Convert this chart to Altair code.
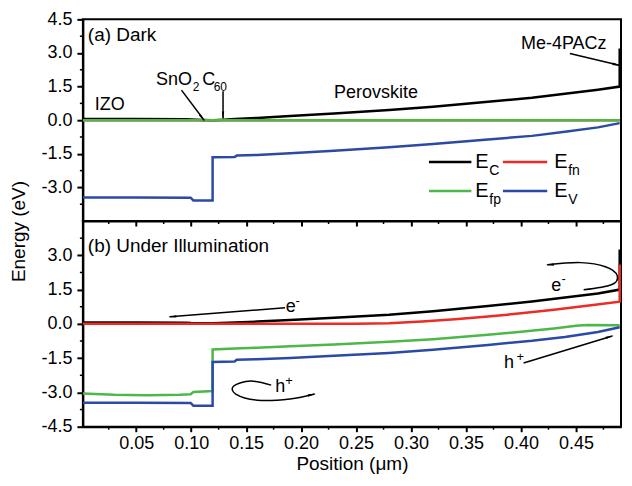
import altair as alt
import pandas as pd

FONT = "Liberation Sans"
X_DOMAIN = [0.0015, 0.491]
Y_DOMAIN = [-4.5, 4.5]

# ---------------- (a) Dark ----------------
dark_ec_x = [0.0015, 0.05, 0.095, 0.10, 0.11, 0.12, 0.13, 0.14, 0.16, 0.19, 0.23, 0.28, 0.32, 0.37, 0.41, 0.44, 0.47, 0.4898, 0.4898]
dark_ec_y = [0.05, 0.05, 0.04, 0.03, 0.01, 0.0, 0.02, 0.05, 0.10, 0.19, 0.30, 0.45, 0.60, 0.82, 1.00, 1.18, 1.36, 1.50, 3.20]
dark_efn_x = [0.0015, 0.4898]
dark_efn_y = [0.0, 0.0]
dark_efp_x = [0.0015, 0.4898]
dark_efp_y = [0.0, 0.0]
dark_ev_x = [0.0015, 0.05, 0.0995, 0.102, 0.1195, 0.1195, 0.1395, 0.1415, 0.16, 0.19, 0.23, 0.28, 0.32, 0.37, 0.41, 0.44, 0.47, 0.4898]
dark_ev_y = [-3.45, -3.45, -3.46, -3.58, -3.58, -1.65, -1.64, -1.58, -1.55, -1.47, -1.36, -1.21, -1.06, -0.86, -0.70, -0.52, -0.32, -0.13]

# ---------------- (b) Under Illumination ----------------
light_ec_x = [0.0015, 0.05, 0.095, 0.10, 0.12, 0.14, 0.16, 0.19, 0.23, 0.28, 0.32, 0.37, 0.41, 0.44, 0.47, 0.4898, 0.4898]
light_ec_y = [0.06, 0.06, 0.05, 0.04, 0.03, 0.06, 0.10, 0.17, 0.27, 0.40, 0.55, 0.78, 0.98, 1.15, 1.33, 1.50, 3.25]
light_efn_x = [0.0015, 0.10, 0.20, 0.25, 0.28, 0.31, 0.34, 0.37, 0.40, 0.43, 0.46, 0.4898, 0.4898]
light_efn_y = [0.0, 0.0, 0.0, 0.0, 0.03, 0.10, 0.20, 0.32, 0.46, 0.62, 0.79, 0.97, 2.60]
light_efp_x = [0.0015, 0.03, 0.06, 0.09, 0.0995, 0.102, 0.1195, 0.1195, 0.14, 0.16, 0.19, 0.23, 0.28, 0.32, 0.37, 0.40, 0.43, 0.45, 0.46, 0.4898]
light_efp_y = [-3.05, -3.10, -3.12, -3.10, -3.08, -2.98, -2.94, -1.12, -1.08, -1.04, -0.98, -0.90, -0.78, -0.67, -0.48, -0.35, -0.20, -0.08, -0.05, -0.06]
light_ev_x = [0.0015, 0.05, 0.0995, 0.102, 0.1195, 0.1195, 0.1395, 0.1415, 0.16, 0.19, 0.23, 0.28, 0.32, 0.37, 0.41, 0.44, 0.47, 0.4898]
light_ev_y = [-3.45, -3.45, -3.46, -3.58, -3.58, -1.67, -1.65, -1.57, -1.55, -1.49, -1.40, -1.27, -1.13, -0.92, -0.74, -0.57, -0.36, -0.15]

# ---------------- ticks ----------------
x_major = [0.05, 0.10, 0.15, 0.20, 0.25, 0.30, 0.35, 0.40, 0.45]
x_minor = [0.025, 0.075, 0.125, 0.175, 0.225, 0.275, 0.325, 0.375, 0.425, 0.475]
y_major_top = [-3.0, -1.5, 0.0, 1.5, 3.0, 4.5]
y_major_bottom = [-4.5, -3.0, -1.5, 0.0, 1.5, 3.0]
y_minor = [-3.75, -2.25, -0.75, 0.75, 2.25, 3.75]

# ---------------- annotations ----------------
top_text_x = [0.006, 0.0123, 0.068, 0.110, 0.230, 0.400]
top_text_y = [3.79, 0.67, 1.78, 1.78, 1.20, 3.39]
top_text_t = ["(a) Dark", "IZO", "SnO", "C", "Perovskite", "Me-4PACz"]
top_text_fs = [19, 18, 18, 18, 18, 18]
top_sub_x = [0.1015, 0.1205]
top_sub_y = [1.47, 1.47]
top_sub_t = ["2", "60"]

top_arrow_g = ["sno2", "sno2", "c60", "c60", "me", "me"]
top_arrow_x = [0.0912, 0.1118, 0.129, 0.129, 0.4445, 0.4894]
top_arrow_y = [1.34, 0.0, 1.29, 0.09, 2.98, 2.45]
top_head_x = [0.1094, 0.129, 0.4858]
top_head_y = [0.14, 0.27, 2.49]
top_head_a = [142.5, 180.0, 103.5]

legend_line_x = [0.3163, 0.3549, 0.3836, 0.4239, 0.3163, 0.3549, 0.3836, 0.4239]
legend_line_y = [-1.87, -1.87, -1.87, -1.87, -3.16, -3.16, -3.16, -3.16]
legend_line_g = ["Ec", "Ec", "Efn", "Efn", "Efp", "Efp", "Ev", "Ev"]
legend_e_x = [0.3585, 0.4302, 0.3585, 0.4302]
legend_e_y = [-1.87, -1.87, -3.16, -3.16]
legend_sub_x = [0.3712, 0.4429, 0.3712, 0.4429]
legend_sub_y = [-2.27, -2.27, -3.56, -3.56]
legend_sub_t = ["C", "fn", "fp", "V"]

bot_text_x = [0.006, 0.186, 0.4275, 0.1764, 0.3845]
bot_text_y = [3.42, 0.75, 1.67, -2.77, -1.71]
bot_text_t = ["(b) Under Illumination", "e", "e", "h", "h"]
bot_text_fs = [19, 18, 18, 18, 18]
bot_sup_x = [0.1948, 0.4368, 0.1855, 0.3960]
bot_sup_y = [1.02, 1.95, -2.48, -1.43]
bot_sup_t = ["-", "-", "+", "+"]

bot_arrow_g = ["e1", "e1", "h2", "h2"]
bot_arrow_x = [0.1854, 0.0804, 0.4024, 0.4831]
bot_arrow_y = [0.70, 0.31, -1.71, -0.53]
bot_curve_g = ["e2"] * 6 + ["h1"] * 7
bot_curve_x = [0.457, 0.4822, 0.4876, 0.4768, 0.4544, 0.4239,
               0.1728, 0.154, 0.1387, 0.1405, 0.1602, 0.1899, 0.2123]
bot_curve_y = [1.49, 1.71, 2.11, 2.50, 2.68, 2.59,
               -2.68, -2.50, -2.72, -3.07, -3.34, -3.29, -3.07]
bot_head_x = [0.0840, 0.4275, 0.2087, 0.4797]
bot_head_y = [0.32, 2.59, -3.11, -0.575]
bot_head_a = [265.6, 266.6, 78.7, 73.3]

COLORS = {"Ec": "#000000", "Efn": "#ee2a24", "Efp": "#4cb848", "Ev": "#2a4aa5"}

W = 539
H_TOP = 202
H_BOT = 206

xscale = alt.Scale(domain=X_DOMAIN, nice=False, zero=False)
yscale = alt.Scale(domain=Y_DOMAIN, nice=False, zero=False)

LABEL_EXPR = "(datum.value < 0 ? '-' : '') + format(abs(datum.value), '.1f')"


def x_axis(show_labels):
    if show_labels:
        return alt.Axis(values=x_major, format=".2f", labels=True, title="Position (μm)",
                        titlePadding=2, labelPadding=3, tickSize=5)
    return alt.Axis(values=x_major, labels=False, title=None, tickSize=5)


def y_axis(values, title):
    if title:
        return alt.Axis(values=values, labelExpr=LABEL_EXPR, title="Energy (eV)",
                        titleX=-64, titleY=212, titleAngle=270, titleAlign="center",
                        titleBaseline="middle", tickSize=6, labelPadding=5)
    return alt.Axis(values=values, labelExpr=LABEL_EXPR, title=None, tickSize=6, labelPadding=5)


def panel(series, texts, subs, sups, straight, curves, heads, yvals, height, show_xlabels, legend):
    X = lambda f: alt.X(f"{f}:Q", scale=xscale, axis=x_axis(show_xlabels))
    Y = lambda f: alt.Y(f"{f}:Q", scale=yscale, axis=y_axis(yvals, show_xlabels is False))
    layers = []
    # minor ticks
    layers.append(alt.Chart(pd.DataFrame({"v": y_minor})).mark_rule(color="black", strokeWidth=1.5).encode(
        y=Y("v"), x=alt.value(0), x2=alt.value(-3)))
    layers.append(alt.Chart(pd.DataFrame({"v": x_minor})).mark_rule(color="black", strokeWidth=1.5).encode(
        x=X("v"), y=alt.value(height), y2=alt.value(height + 3)))
    for key, xs, ys in series:
        df = pd.DataFrame({"x": xs, "y": ys, "i": list(range(len(xs)))})
        layers.append(alt.Chart(df).mark_line(color=COLORS[key], strokeWidth=2.5, clip=True).encode(
            x=X("x"), y=Y("y"), order="i:Q"))
    if legend:
        lx, ly, lg = legend
        for key in ["Ec", "Efn", "Efp", "Ev"]:
            d = pd.DataFrame({"x": [a for a, g in zip(lx, lg) if g == key],
                              "y": [b for b, g in zip(ly, lg) if g == key]})
            layers.append(alt.Chart(d).mark_line(color=COLORS[key], strokeWidth=2.5).encode(x=X("x"), y=Y("y")))
        layers.append(alt.Chart(pd.DataFrame({"x": legend_e_x, "y": legend_e_y, "t": ["E"] * 4})).mark_text(
            align="left", baseline="middle", font=FONT, fontSize=20, color="black").encode(x=X("x"), y=Y("y"), text="t:N"))
        layers.append(alt.Chart(pd.DataFrame({"x": legend_sub_x, "y": legend_sub_y, "t": legend_sub_t})).mark_text(
            align="left", baseline="middle", font=FONT, fontSize=14, color="black").encode(x=X("x"), y=Y("y"), text="t:N"))
    tx, ty, tt, tf = texts
    layers.append(alt.Chart(pd.DataFrame({"x": tx, "y": ty, "t": tt, "fs": tf})).mark_text(
        align="left", baseline="middle", font=FONT, color="black").encode(
        x=X("x"), y=Y("y"), text="t:N", size=alt.Size("fs:Q", scale=None)))
    for (sx, sy, st), fs in [(subs, 12), (sups, 13)]:
        if sx:
            layers.append(alt.Chart(pd.DataFrame({"x": sx, "y": sy, "t": st})).mark_text(
                align="left", baseline="middle", font=FONT, fontSize=fs, color="black").encode(
                x=X("x"), y=Y("y"), text="t:N"))
    ag, ax, ay = straight
    layers.append(alt.Chart(pd.DataFrame({"g": ag, "x": ax, "y": ay, "i": list(range(len(ax)))})).mark_line(
        color="black", strokeWidth=1.5).encode(x=X("x"), y=Y("y"), detail="g:N", order="i:Q"))
    if curves:
        cg, cx, cy = curves
        layers.append(alt.Chart(pd.DataFrame({"g": cg, "x": cx, "y": cy, "i": list(range(len(cx)))})).mark_line(
            color="black", strokeWidth=1.5, interpolate="cardinal").encode(x=X("x"), y=Y("y"), detail="g:N", order="i:Q"))
    hx, hy, ha = heads
    layers.append(alt.Chart(pd.DataFrame({"x": hx, "y": hy, "a": ha})).mark_point(
        shape="wedge", filled=True, color="black", size=90, opacity=1, strokeWidth=0).encode(
        x=X("x"), y=Y("y"), angle=alt.Angle("a:Q", scale=None)))
    return alt.layer(*layers).properties(width=W, height=height)


top = panel(
    [("Ec", dark_ec_x, dark_ec_y), ("Efn", dark_efn_x, dark_efn_y),
     ("Efp", dark_efp_x, dark_efp_y), ("Ev", dark_ev_x, dark_ev_y)],
    (top_text_x, top_text_y, top_text_t, top_text_fs),
    (top_sub_x, top_sub_y, top_sub_t), ([], [], []),
    (top_arrow_g, top_arrow_x, top_arrow_y), None,
    (top_head_x, top_head_y, top_head_a),
    y_major_top, H_TOP, False, (legend_line_x, legend_line_y, legend_line_g))

bottom = panel(
    [("Ec", light_ec_x, light_ec_y), ("Efn", light_efn_x, light_efn_y),
     ("Efp", light_efp_x, light_efp_y), ("Ev", light_ev_x, light_ev_y)],
    (bot_text_x, bot_text_y, bot_text_t, bot_text_fs),
    ([], [], []), (bot_sup_x, bot_sup_y, bot_sup_t),
    (bot_arrow_g, bot_arrow_x, bot_arrow_y), (bot_curve_g, bot_curve_x, bot_curve_y),
    (bot_head_x, bot_head_y, bot_head_a),
    y_major_bottom, H_BOT, True, None)

chart = alt.vconcat(top, bottom, spacing=0, bounds="flush").properties(
    padding={"left": 1, "top": 1, "right": 0, "bottom": 0}
).configure_view(stroke="black", strokeWidth=2).configure_axis(
    domainColor="black", domainWidth=2, tickColor="black", tickWidth=2,
    labelFont=FONT, labelFontSize=18, labelColor="black",
    titleFont=FONT, titleFontSize=19, titleColor="black", titleFontWeight="normal", grid=False
)

chart.save("out.html", embed_options={"renderer": "svg", "actions": False})
